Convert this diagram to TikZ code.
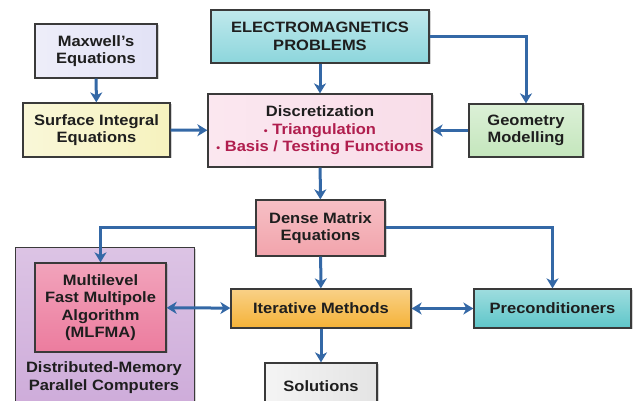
\documentclass[tikz,border=0pt]{standalone}
\usepackage{fontspec}
\setmainfont{Liberation Sans}[FakeStretch=1.1]
\usetikzlibrary{arrows.meta,shadows,calc}

\definecolor{flowblue}{HTML}{3468A6}
\definecolor{boxedge}{HTML}{3A3A3A}
\definecolor{txt}{HTML}{1E1E1E}
\definecolor{discred}{HTML}{B01E4E}
\definecolor{maxwellfill}{HTML}{E2E2F6}
\definecolor{siefill}{HTML}{F6F2BE}
\definecolor{emfill}{HTML}{8CD6DC}
\definecolor{discfill}{HTML}{F9DDE9}
\definecolor{geofill}{HTML}{C4E6BC}
\definecolor{densefill}{HTML}{F2A4AC}
\definecolor{parfill}{HTML}{CDAAD9}
\definecolor{mlfmafill}{HTML}{EC7C9E}
\definecolor{iterfill}{HTML}{F5B237}
\definecolor{precfill}{HTML}{5EC6C9}
\definecolor{solfill}{HTML}{E4E4E4}

\newcommand{\pt}{{\fontsize{10}{10}\selectfont\textbullet}\ }

\tikzset{
  px/.style={x={(1pt,0)},y={(0,-1pt)}},
  label text/.style={font=\fontsize{15}{17.5}\selectfont\bfseries, text=txt, align=center},
  box/.style={label text, draw=boxedge, line width=1.3pt, inner sep=2pt,
    drop shadow={shadow xshift=1.5pt, shadow yshift=-1.5pt, opacity=0.35}},
  flow/.style={draw=flowblue, line width=3pt,
    -{Stealth[length=10pt,width=12pt,inset=3pt]}},
  bothflow/.style={draw=flowblue, line width=3pt,
    {Stealth[length=10pt,width=12pt,inset=3pt]}-{Stealth[length=10pt,width=12pt,inset=3pt]}},
}

\begin{document}
\begin{tikzpicture}[px]
\useasboundingbox (0,0) rectangle (633,401);
\begin{scope}
\clip (0,0) rectangle (633,401);

% parallel-computer frame behind the MLFMA block
\node[box, top color=parfill!70, bottom color=parfill, minimum width=179pt, minimum height=170pt, anchor=north west] (par) at (15,247) {};
\node[label text] (partxt) at (104,377.5) {Distributed-Memory\\Parallel Computers};

\node[box, left color=maxwellfill!60, right color=maxwellfill, minimum width=122pt, minimum height=54pt] (maxw) at (96,51) {Maxwell's\\Equations};
\node[box, left color=siefill!60, right color=siefill, minimum width=147pt, minimum height=54pt] (sie) at (96.5,130) {Surface Integral\\Equations};
\node[box, top color=emfill!55, bottom color=emfill, minimum width=218pt, minimum height=53pt] (emp) at (320,36.5) {ELECTROMAGNETICS\\PROBLEMS};
\node[box, left color=discfill!70, right color=discfill, minimum width=224pt, minimum height=73pt] (disc) at (320,130.5)
  {Discretization\\{\color{discred}\pt Triangulation}\\{\color{discred}\pt Basis / Testing Functions}};
\node[box, top color=geofill!60, bottom color=geofill, minimum width=114pt, minimum height=53pt] (geo) at (526,130.5) {Geometry\\Modelling};
\node[box, top color=densefill!70, bottom color=densefill, minimum width=129pt, minimum height=56pt] (dense) at (320.5,228) {Dense Matrix\\Equations};
\node[box, top color=mlfmafill!70, bottom color=mlfmafill, minimum width=131pt, minimum height=89pt] (mlfma) at (100.5,307.5) {Multilevel\\Fast Multipole\\Algorithm\\(MLFMA)};
\node[box, top color=iterfill!60, bottom color=iterfill, minimum width=180pt, minimum height=39pt] (iter) at (321,308.5) {Iterative Methods};
\node[box, top color=precfill!60, bottom color=precfill, minimum width=157pt, minimum height=39pt] (prec) at (552.5,308.5) {Preconditioners};
\node[box, left color=solfill!40, right color=solfill, minimum width=112pt, minimum height=46pt] (sol) at (321,386) {Solutions};

% connectors
\draw[flow] (maxw) -- (sie);
\draw[flow] (sie) -- (disc);
\draw[flow] (emp) -- (disc);
\draw[flow] (emp.east) -| (geo.north);
\draw[flow] (geo) -- (disc);
\draw[flow] (disc) -- (dense);
\draw[flow] (dense.west) -| (mlfma.north);
\draw[flow] (dense.east) -| (prec.north);
\draw[flow] (dense) -- (iter);
\draw[bothflow] (mlfma) -- (iter);
\draw[bothflow] (iter) -- (prec);
\draw[flow] (iter) -- (sol);
\end{scope}
\end{tikzpicture}
\end{document}
